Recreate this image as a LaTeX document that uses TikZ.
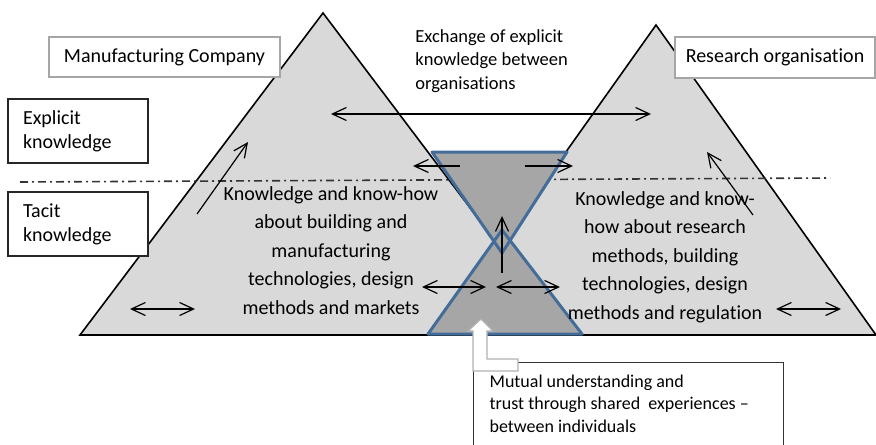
\documentclass[tikz,border=0pt]{standalone}
\usepackage{fontspec}
\setmainfont{Carlito}[Ligatures={TeX,CommonOff}]
\usetikzlibrary{arrows.meta}
\definecolor{pyrgray}{RGB}{217,217,217}
\definecolor{glassgray}{RGB}{166,166,166}
\definecolor{glassblue}{RGB}{68,108,152}

\begin{document}
\begin{tikzpicture}[x=0.5pt, y=-0.5pt, font=\fontsize{10pt}{12pt}\selectfont,
    pyramid/.style={fill=pyrgray, draw=black, line width=0.8pt},
    glass/.style={fill=glassgray},
    glassrim/.style={draw=glassblue, line width=1.5pt, line join=round},
    flow/.style={line width=0.6pt, -{Straight Barb[length=7pt, width=6.5pt]}},
    twoway/.style={line width=0.6pt, {Straight Barb[length=7pt, width=6.5pt]}-{Straight Barb[length=7pt, width=6.5pt]}},
    labelbox/.style={draw=#1, fill=white, line width=0.6pt, inner sep=0pt},
    sidebox/.style={labelbox=black!85, minimum height=32pt, text width=55pt, inner xsep=7.5pt, align=left},
    bigtext/.style={align=center, inner sep=0pt, font=\fontsize{10pt}{14.25pt}\selectfont}]
    \useasboundingbox (0, 0) rectangle (876, 444);
    \clip (0, 0) rectangle (876, 444);
    \draw[pyramid](80, 335)--(323, 13)--(566, 335)--cycle;
    \draw[pyramid](436, 335)--(656, 25)--(876, 335)--cycle;
    \draw[black!80, line width=0.8pt, dash pattern=on 4pt off 2pt on 1pt off 2pt](20, 182)--(830, 178);
    \fill[glass](432, 152)--(567, 152)--(502, 253)--cycle;
    \fill[glass](428, 334)--(582, 334)--(502, 230)--cycle;
    \draw[glassrim](432, 152)--(567, 152)--(502, 253)--cycle;
    \draw[glassrim](428, 334)--(582, 334)--(502, 230)--cycle;

    \node[labelbox=gray!70, minimum width=115.5pt, minimum height=20pt](mfg) at (164.5, 57){Manufacturing Company};
    \node[labelbox=gray!70, minimum width=100pt, minimum height=20.5pt](research) at (775, 57.5){Research organisation};
    \node[sidebox](explicit) at (78, 131){Explicit\\knowledge};
    \node[sidebox](tacit) at (78, 224){Tacit\\knowledge};
    \node[anchor=north west, inner sep=0pt, align=left, font=\fontsize{9.25pt}{11.75pt}\selectfont](exchange) at (415, 29){Exchange of explicit\\knowledge between\\organisations};
    \node[bigtext, anchor=north](mfgknow) at (331, 186){Knowledge and know-how\\about building and\\manufacturing\\technologies, design\\methods and markets};
    \node[bigtext, anchor=north](resknow) at (665, 191){Knowledge and know-\\how about research\\methods, building\\technologies, design\\methods and regulation};
    \node[labelbox=black!80, anchor=north west, text width=139pt, align=flush left, inner xsep=8pt, inner ysep=6pt, font=\fontsize{9pt}{11.25pt}\selectfont, execute at end node={\rule[-8pt]{0pt}{8pt}}](mutual) at (473, 362){Mutual understanding and\\trust through shared~ experiences --\\between individuals};
    \draw[fill=white, draw=gray!60, line width=0.6pt](481, 319)--(493, 331)--(487, 331)--(487, 359)--(518, 359)--(518, 371)--(473, 371)--(473, 331)--(468, 331)--cycle;

    \coordinate (xl) at (331, 114);
    \coordinate (xr) at (651, 114);
    \coordinate (tl) at (460, 166);
    \coordinate (tlh) at (413, 166);
    \coordinate (tr) at (525, 166);
    \coordinate (trh) at (573, 166);
    \coordinate (up) at (502, 273);
    \coordinate (uph) at (502, 216);
    \coordinate (bl) at (422, 287);
    \coordinate (blh) at (486, 287);
    \coordinate (br) at (496, 287);
    \coordinate (brh) at (560, 287);
    \coordinate (ml) at (130, 309);
    \coordinate (mlh) at (195, 309);
    \coordinate (rl) at (776, 309);
    \coordinate (rlh) at (841, 309);
    \coordinate (dl) at (197, 214);
    \coordinate (dlh) at (248, 142);
    \coordinate (dr) at (753, 215);
    \coordinate (drh) at (707, 152);
    \draw[twoway](xl)--(xr);
    \draw[flow](tl)--(tlh);
    \draw[flow](tr)--(trh);
    \draw[flow](up)--(uph);
    \draw[twoway](bl)--(blh);
    \draw[twoway](br)--(brh);
    \draw[twoway](ml)--(mlh);
    \draw[twoway](rl)--(rlh);
    \draw[flow](dl)--(dlh);
    \draw[flow](dr)--(drh);
\end{tikzpicture}
\end{document}
